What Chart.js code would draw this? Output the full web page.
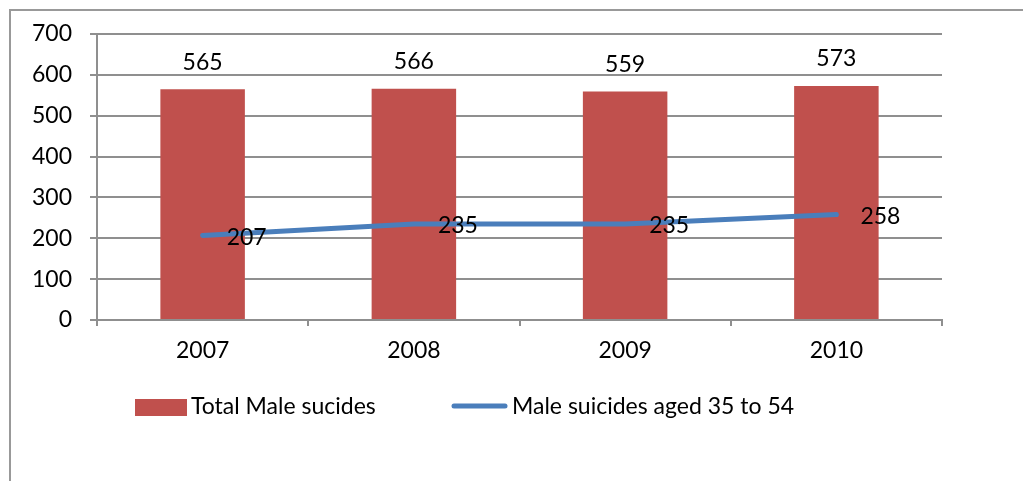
<!DOCTYPE html>
<html>
<head>
<meta charset="utf-8">
<script src="https://cdn.jsdelivr.net/npm/chart.js@4"></script>
<style>
  html, body { margin: 0; padding: 0; background: #fff; }
  #wrap { position: relative; width: 1023px; height: 481px; }
</style>
</head>
<body>
<div id="wrap"><canvas id="canvas" width="1023" height="481"></canvas></div>
<script>
// yearly figures
var years = ['2007', '2008', '2009', '2010'];
var totalMale = [565, 566, 559, 573];
var aged35to54 = [207, 235, 235, 258];
var yTicks = [0, 100, 200, 300, 400, 500, 600, 700];

var FONT = 'Lato, "Open Sans", sans-serif';
var FSIZE = 23;
var RED = '#C0504D';
var BLUE = '#4A7EBB';
var GRID = '#8f8f8f';

// outer frame + value labels + legend
var decor = {
    id: 'decor',
    beforeDraw: function(chart) {
        var c = chart.ctx;
        c.save();
        c.strokeStyle = '#999';
        c.lineWidth = 2;
        c.beginPath();
        c.moveTo(10, 481);
        c.lineTo(10, 10);
        c.lineTo(1023, 10);
        c.stroke();
        c.restore();
    },
    afterDatasetsDraw: function(chart) {
        var c = chart.ctx;
        c.save();
        c.font = FSIZE + 'px ' + FONT;
        c.fillStyle = '#000';
        c.textBaseline = 'middle';

        // bar values above each bar
        c.textAlign = 'center';
        chart.getDatasetMeta(0).data.forEach(function(bar, i) {
            c.fillText(String(totalMale[i]), bar.x, bar.y - 27);
        });
        // line values to the right of each point
        c.textAlign = 'left';
        chart.getDatasetMeta(1).data.forEach(function(pt, i) {
            c.fillText(String(aged35to54[i]), pt.x + 24, pt.y + 2);
        });

        // legend
        var ly = 407;
        var x = 135;
        c.fillStyle = RED;
        c.fillRect(x, ly - 8, 52, 17);
        c.fillStyle = '#000';
        c.fillText(chart.data.datasets[0].label, x + 56, ly);
        x = 452;
        c.strokeStyle = BLUE;
        c.lineWidth = 5;
        c.lineCap = 'round';
        c.beginPath();
        c.moveTo(x + 2, ly - 1);
        c.lineTo(x + 53, ly - 1);
        c.stroke();
        c.fillText(chart.data.datasets[1].label, x + 60, ly);
        c.restore();
    }
};

var ctx = document.getElementById('canvas').getContext('2d');
var myChart = new Chart(ctx, {
    type: 'bar',
    data: {
        labels: years,
        datasets: [{
            label: 'Total Male sucides',
            data: totalMale,
            backgroundColor: RED,
            borderWidth: 0,
            barPercentage: 0.4,
            categoryPercentage: 1.0,
            order: 2
        },
        {
            type: 'line',
            label: 'Male suicides aged 35 to 54',
            data: aged35to54,
            borderColor: BLUE,
            backgroundColor: BLUE,
            borderWidth: 5,
            borderCapStyle: 'round',
            pointRadius: 0,
            tension: 0,
            order: 1
        }]
    },
    options: {
        responsive: false,
        animation: false,
        layout: { padding: { top: 34, right: 81, left: 0, bottom: 111 } },
        plugins: {
            legend: { display: false },
            tooltip: { enabled: false }
        },
        scales: {
            x: {
                offset: true,
                grid: {
                    offset: true,
                    drawOnChartArea: false,
                    drawTicks: true,
                    tickLength: 6,
                    color: GRID,
                    lineWidth: 2
                },
                border: { color: GRID, width: 2 },
                ticks: { color: '#000', font: { family: FONT, size: FSIZE }, padding: 11 },
                afterFit: function(axis) { axis.height = 50; }
            },
            y: {
                min: 0,
                max: 700,
                afterBuildTicks: function(axis) {
                    axis.ticks = yTicks.map(function(v) { return { value: v }; });
                },
                grid: { color: GRID, lineWidth: 2, tickLength: 7 },
                border: { color: GRID, width: 2 },
                ticks: { color: '#000', font: { family: FONT, size: FSIZE }, padding: 18 },
                afterFit: function(axis) { axis.width = 97; }
            }
        }
    },
    plugins: [decor]
});
</script>
</body>
</html>
